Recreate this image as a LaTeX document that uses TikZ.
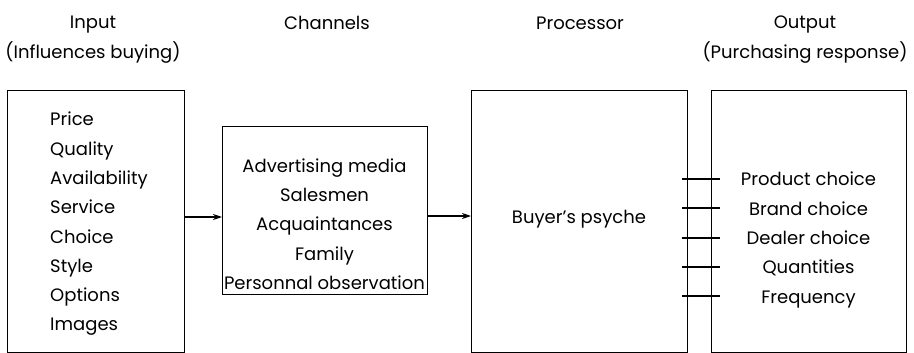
\documentclass[tikz,border=0pt]{standalone}
\usepackage{fontspec}
\setmainfont{Poppins}
\usetikzlibrary{arrows.meta}
\begin{document}
\begin{tikzpicture}[x=1pt,y=-1pt,
  every node/.style={inner sep=0pt, font=\fontsize{18}{29.3}\selectfont, text=black},
  boxnode/.style={draw, line width=1.1pt, anchor=north west},
  arr/.style={line width=1.2pt, -{Stealth[length=9pt,width=6pt]}},
  tick/.style={line width=1.1pt},
  hdr/.style={align=center, font=\fontsize{18}{30}\selectfont}]
\useasboundingbox (0,0) rectangle (914,353);
% boxes
\node[boxnode, minimum width=177pt, minimum height=262pt] (inp) at (7,90) {};
\node[boxnode, minimum width=205pt, minimum height=168pt] (chn) at (222,126) {};
\node[boxnode, minimum width=216pt, minimum height=262pt] (prc) at (471,90) {};
\node[boxnode, minimum width=195pt, minimum height=262pt] (out) at (711,90) {};
% headers
\node[hdr] (h1) at (93,40) {Input\\(Influences buying)};
\node[hdr] (h2) at (327,23) {Channels};
\node[hdr] (h3) at (580,23) {Processor};
\node[hdr] (h4) at (805,40) {Output\\(Purchasing response)};
% contents
\node[align=left, anchor=west] (inptxt) at (50,224) {Price\\Quality\\Availability\\Service\\Choice\\Style\\Options\\Images};
\node[align=center] (chntxt) at (324.5,224) {Advertising media\\Salesmen\\Acquaintances\\Family\\Personnal observation};
\node (prctxt) at (579,219) {Buyer’s psyche};
\node[align=center] (outtxt) at (808.5,240) {Product choice\\Brand choice\\Dealer choice\\Quantities\\Frequency};
% arrows
\coordinate (a1) at (inp.east |- 0,217);
\coordinate (a2) at (chn.west |- 0,217);
\coordinate (b1) at (chn.east |- 0,216);
\coordinate (b2) at (prc.west |- 0,216);
\draw[arr] (a1) -- (a2);
\draw[arr] (b1) -- (b2);
% ticks
\foreach \i/\y in {1/179,2/208,3/238,4/267,5/296}{
  \coordinate (t\i a) at (682,\y);
  \coordinate (t\i b) at (720,\y);
  \draw[tick] (t\i a) -- (t\i b);
}
\end{tikzpicture}
\end{document}
